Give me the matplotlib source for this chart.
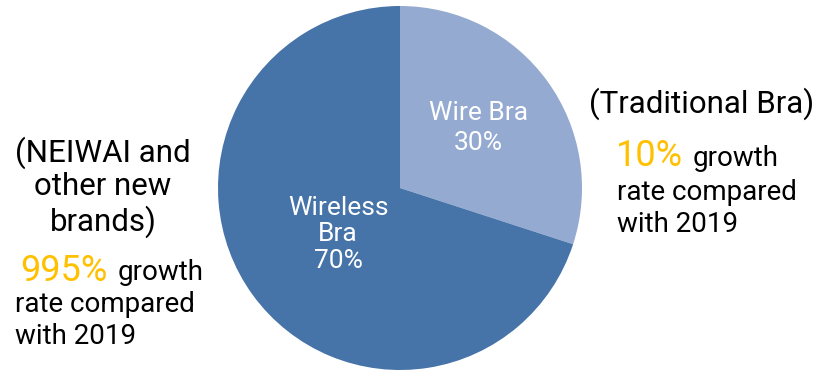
import matplotlib.pyplot as plt

plt.rcParams['font.family'] = ['Roboto', 'DejaVu Sans']

# Data
categories = ['Wire Bra', 'Wireless Bra']
shares = [30, 70]
colors = ['#94aad1', '#4673a8']
growth = ['10%', '995%']
gold = '#ffc000'

W, H = 823, 373
fig = plt.figure(figsize=(W / 100, H / 100), dpi=100)

# pie: centre (400, 188) px, radius 182 px
cx, cy, r = 400, 188, 182
ax = fig.add_axes([(cx - r) / W, (H - cy - r) / H, 2 * r / W, 2 * r / H])
ax.pie(shares, startangle=90, counterclock=False, colors=colors,
       wedgeprops=dict(linewidth=0))
ax.set_xlim(-1, 1)
ax.set_ylim(-1, 1)
ax.set_aspect('equal')

# labels inside the slices
ax.text(0.43, 0.33, 'Wire Bra\n' + f'{shares[0]}%', color='white',
        fontsize=19, ha='center', va='center', linespacing=1.35)
ax.text(-0.34, -0.255, 'Wireless\nBra\n' + f'{shares[1]}%', color='white',
        fontsize=19, ha='center', va='center', linespacing=1.15)


def fy(py):
    return 1 - py / H


# left annotation
fig.text(103 / W, fy(187), '(NEIWAI and\nother new\nbrands)', fontsize=22.5,
         ha='center', va='center', linespacing=1.15, color='black')
t1 = fig.text(20 / W, fy(267), growth[1], fontsize=26, color=gold,
              ha='left', va='center_baseline')
fig.text(15 / W, fy(302), 'rate compared', fontsize=20, ha='left', va='center_baseline')
fig.text(15 / W, fy(334), 'with 2019', fontsize=20, ha='left', va='center_baseline')
fig.canvas.draw()
bb = t1.get_window_extent()
fig.text((bb.x1 + 10) / W, fy(269), 'growth', fontsize=20, ha='left', va='center_baseline')

# right annotation
fig.text(589 / W, fy(100), '(Traditional Bra)', fontsize=22.5, ha='left',
         va='center_baseline')
t2 = fig.text(616 / W, fy(152), growth[0], fontsize=26, color=gold,
              ha='left', va='center_baseline')
fig.text(617 / W, fy(190), 'rate compared', fontsize=20, ha='left', va='center_baseline')
fig.text(617 / W, fy(222), 'with 2019', fontsize=20, ha='left', va='center_baseline')
fig.canvas.draw()
bb = t2.get_window_extent()
fig.text((bb.x1 + 10) / W, fy(155), 'growth', fontsize=20, ha='left', va='center_baseline')

fig.savefig('out.png', dpi=100)
